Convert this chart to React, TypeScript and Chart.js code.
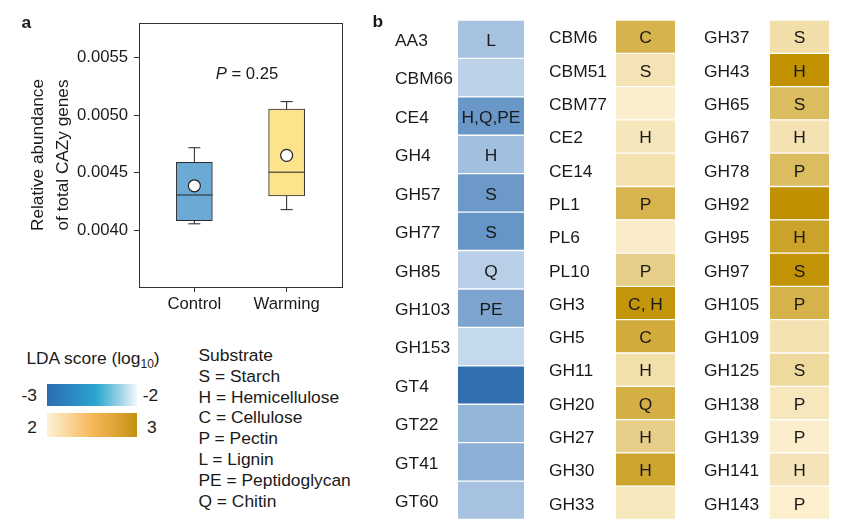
import React, { useEffect, useRef } from 'react';
import { Chart, registerables } from 'chart.js';

Chart.register(...registerables);

const FONT = "'Liberation Sans', Arial, Helvetica, sans-serif";
const INK = '#1a1a1a';

// ---------- Panel a: box plot data ----------
const groups = ['Control', 'Warming'];
const groupX = [1, 2];
const whiskerLow = [0.004058, 0.004181];
const quartile1 = [0.004086, 0.004299];
const medians = [0.004308, 0.004506];
const quartile3 = [0.004592, 0.005054];
const whiskerHigh = [0.004718, 0.005118];
const means = [0.004388, 0.004652];
const yTickValues = [0.004, 0.0045, 0.005, 0.0055];
const pValue = '0.25';

// ---------- Panel b: LDA heatmap data ----------
const blueFamilies = ['AA3', 'CBM66', 'CE4', 'GH4', 'GH57', 'GH77', 'GH85', 'GH103', 'GH153', 'GT4', 'GT22', 'GT41', 'GT60'];
const blueScores = [-2.28, -2.16, -2.65, -2.32, -2.63, -2.67, -2.18, -2.54, -2.1, -2.98, -2.4, -2.45, -2.29];
const blueSubstrates = ['L', '', 'H,Q,PE', 'H', 'S', 'S', 'Q', 'PE', '', '', '', '', ''];

const goldFamiliesA = ['CBM6', 'CBM51', 'CBM77', 'CE2', 'CE14', 'PL1', 'PL6', 'PL10', 'GH3', 'GH5', 'GH11', 'GH20', 'GH27', 'GH30', 'GH33'];
const goldScoresA = [2.64, 2.14, 2.03, 2.11, 2.15, 2.63, 2.05, 2.35, 2.95, 2.72, 2.18, 2.68, 2.35, 2.78, 2.1];
const goldSubstratesA = ['C', 'S', '', 'H', '', 'P', '', 'P', 'C, H', 'C', 'H', 'Q', 'H', 'H', ''];

const goldFamiliesB = ['GH37', 'GH43', 'GH65', 'GH67', 'GH78', 'GH92', 'GH95', 'GH97', 'GH105', 'GH109', 'GH125', 'GH138', 'GH139', 'GH141', 'GH143'];
const goldScoresB = [2.2, 2.99, 2.55, 2.15, 2.55, 3.0, 2.8, 2.97, 2.65, 2.15, 2.25, 2.1, 2.03, 2.13, 2.02];
const goldSubstratesB = ['S', 'H', 'S', 'H', 'P', '', 'H', 'S', 'P', '', 'S', 'P', 'P', 'H', 'P'];

// ---------- Legend text ----------
const substrateLegend = ['Substrate', 'S = Starch', 'H = Hemicellulose', 'C = Cellulose', 'P = Pectin', 'L = Lignin', 'PE = Peptidoglycan', 'Q = Chitin'];

const clamp01 = (t: number) => Math.max(0, Math.min(1, t));
const mix = (a: number[], b: number[], t: number) =>
  `rgb(${a.map((v, i) => Math.round(v + (b[i] - v) * clamp01(t))).join(',')})`;
const blueColor = (s: number) => mix([47, 109, 176], [214, 229, 243], s + 3);
const goldColor = (s: number) => mix([253, 241, 210], [192, 144, 0], s - 2);

function BoxPlot() {
  const ref = useRef<HTMLCanvasElement>(null);
  useEffect(() => {
    const canvas = ref.current!;
    const pts = (vals: number[]) => vals.map((v, i) => ({ x: groupX[i], y: v }));
    const framePlugin = {
      id: 'frame',
      afterDraw(chart: any) {
        const { ctx, chartArea: a } = chart;
        ctx.save();
        ctx.strokeStyle = '#333';
        ctx.lineWidth = 1;
        ctx.strokeRect(Math.round(a.left) + 0.5, Math.round(a.top) + 0.5, Math.round(a.right - a.left), Math.round(a.bottom - a.top));
        // P-value annotation
        const xs = chart.scales.x;
        const ys = chart.scales.y;
        const size = 16.7;
        const italic = `italic ${size}px ${FONT}`;
        const normal = `${size}px ${FONT}`;
        ctx.font = italic;
        const wP = ctx.measureText('P').width;
        ctx.font = normal;
        const rest = ` = ${pValue}`;
        const wR = ctx.measureText(rest).width;
        const cx = xs.getPixelForValue(1.57);
        const by = ys.getPixelForValue(0.005315);
        const x0 = cx - (wP + wR) / 2;
        ctx.fillStyle = INK;
        ctx.textBaseline = 'alphabetic';
        ctx.textAlign = 'left';
        ctx.font = italic;
        ctx.fillText('P', x0, by);
        ctx.font = normal;
        ctx.fillText(rest, x0 + wP, by);
        ctx.restore();
      },
    };
    const chart = new Chart(canvas, {
      type: 'bar',
      data: {
        datasets: [
          ...groups.map((g, i) => ({
            type: 'line' as const,
            label: g + ' whisker',
            data: [{ x: groupX[i], y: whiskerLow[i] }, { x: groupX[i], y: whiskerHigh[i] }],
            borderColor: '#222',
            borderWidth: 1,
            pointRadius: 0,
            fill: false,
            order: 4,
          })),
          {
            type: 'bar' as const,
            label: 'box',
            data: groups.map((g, i) => ({ x: groupX[i], y: [quartile1[i], quartile3[i]] })) as any,
            backgroundColor: ['#6caad6', '#fde38b'],
            borderColor: '#2b2b2b',
            borderWidth: 1,
            borderSkipped: false,
            barThickness: 36,
            order: 3,
          },
          {
            type: 'scatter' as const,
            label: 'caps',
            data: [...pts(whiskerLow), ...pts(whiskerHigh)],
            pointStyle: 'line',
            pointRadius: 6,
            borderColor: '#222',
            borderWidth: 1,
            order: 2,
          },
          {
            type: 'scatter' as const,
            label: 'median',
            data: pts(medians),
            pointStyle: 'line',
            pointRadius: 18,
            borderColor: '#222',
            borderWidth: 1,
            order: 2,
          },
          {
            type: 'scatter' as const,
            label: 'mean',
            data: pts(means),
            pointStyle: 'circle',
            pointRadius: 6,
            backgroundColor: '#ffffff',
            borderColor: '#222',
            borderWidth: 1.2,
            order: 1,
          },
        ] as any,
      },
      options: {
        responsive: false,
        animation: false,
        events: [],
        layout: { autoPadding: false, padding: { left: 0, top: 23, right: 13, bottom: 0 } },
        plugins: { legend: { display: false }, tooltip: { enabled: false } },
        scales: {
          x: {
            type: 'linear',
            min: 0.4,
            max: 2.6,
            offset: false,
            afterBuildTicks: (s: any) => {
              s.ticks = groupX.map((v) => ({ value: v }));
            },
            afterFit: (s: any) => {
              s.height = 43;
            },
            ticks: {
              callback: (v: any) => groups[groupX.indexOf(Number(v))] ?? '',
              font: { family: FONT, size: 16.7 },
              color: INK,
              padding: 2,
              maxRotation: 0,
              autoSkip: false,
            },
            grid: { display: true, offset: false, drawOnChartArea: false, drawTicks: true, tickLength: 5, color: '#333' },
            border: { display: false },
          },
          y: {
            type: 'linear',
            min: 0.00351,
            max: 0.0058,
            beginAtZero: false,
            afterBuildTicks: (s: any) => {
              s.ticks = yTickValues.map((v) => ({ value: v }));
            },
            afterFit: (s: any) => {
              s.width = 139;
            },
            ticks: {
              callback: (v: any) => Number(v).toFixed(4),
              font: { family: FONT, size: 16.7 },
              color: INK,
              padding: 6,
              autoSkip: false,
            },
            grid: { display: true, drawOnChartArea: false, drawTicks: true, tickLength: 5, color: '#333' },
            border: { display: false },
            title: {
              display: true,
              text: ['Relative abundance', 'of total CAZy genes'],
              font: { family: FONT, size: 17.2, lineHeight: '25px' },
              color: INK,
              padding: { top: 25.5, bottom: 0 },
            },
          },
        },
      } as any,
      plugins: [framePlugin],
    });
    return () => chart.destroy();
  }, []);
  return <canvas ref={ref} width={355} height={330} style={{ position: 'absolute', left: 0, top: 0, width: 355, height: 330 }} />;
}

type HeatProps = {
  left: number;
  width: number;
  axisWidth: number;
  padRight: number;
  families: string[];
  scores: number[];
  substrates: string[];
  colorFn: (s: number) => string;
};

function HeatColumn({ left, width, axisWidth, padRight, families, scores, substrates, colorFn }: HeatProps) {
  const ref = useRef<HTMLCanvasElement>(null);
  useEffect(() => {
    const canvas = ref.current!;
    const cellText = {
      id: 'cellText',
      afterDatasetsDraw(chart: any) {
        const { ctx } = chart;
        const meta = chart.getDatasetMeta(0);
        ctx.save();
        ctx.font = `17.4px ${FONT}`;
        ctx.fillStyle = INK;
        ctx.textAlign = 'center';
        ctx.textBaseline = 'middle';
        meta.data.forEach((bar: any, i: number) => {
          const { x, y, base } = bar.getProps(['x', 'y', 'base'], true);
          if (substrates[i]) ctx.fillText(substrates[i], (x + base) / 2, y + 2);
        });
        ctx.restore();
      },
    };
    const chart = new Chart(canvas, {
      type: 'bar',
      data: {
        labels: families,
        datasets: [
          {
            data: families.map(() => 1),
            backgroundColor: scores.map(colorFn),
            borderColor: '#ffffff',
            borderWidth: { top: 1, bottom: 1, left: 0, right: 0 },
            borderSkipped: false,
            categoryPercentage: 1,
            barPercentage: 1,
          },
        ],
      },
      options: {
        indexAxis: 'y',
        responsive: false,
        animation: false,
        events: [],
        layout: { autoPadding: false, padding: { left: 5, top: 20, right: padRight, bottom: 10.5 } },
        plugins: { legend: { display: false }, tooltip: { enabled: false } },
        scales: {
          x: { display: false, min: 0, max: 1 },
          y: {
            grid: { display: false },
            border: { display: false },
            afterFit: (s: any) => {
              s.width = axisWidth;
            },
            ticks: {
              crossAlign: 'far',
              autoSkip: false,
              labelOffset: 2,
              font: { family: FONT, size: 17.4 },
              color: INK,
              padding: 0,
            },
          },
        },
      } as any,
      plugins: [cellText],
    });
    return () => chart.destroy();
  }, []);
  return <canvas ref={ref} width={width} height={530} style={{ position: 'absolute', left, top: 0, width, height: 530 }} />;
}

function Txt({ x, baseline, size = 17.4, bold = false, align = 'left', children }: any) {
  const st: any = {
    position: 'absolute',
    top: baseline - 0.8465 * size,
    lineHeight: size + 'px',
    fontSize: size,
    fontFamily: FONT,
    color: INK,
    whiteSpace: 'nowrap',
    fontWeight: bold ? 'bold' : 'normal',
  };
  if (align === 'right') st.right = 856 - x;
  else st.left = x;
  return <div style={st}>{children}</div>;
}

export default function App() {
  return (
    <div style={{ position: 'absolute', left: 0, top: 0, width: 856, height: 530, background: '#fff', overflow: 'hidden', fontFamily: FONT }}>
      <BoxPlot />
      <Txt x={21.5} baseline={28.3} bold>a</Txt>
      <Txt x={372.5} baseline={27.3} bold>b</Txt>

      {/* LDA legend */}
      <Txt x={26.4} baseline={364.3}>
        LDA score (log<span style={{ fontSize: 12, position: 'relative', top: 4 }}>10</span>)
      </Txt>
      <div style={{ position: 'absolute', left: 46.7, top: 384, width: 90.3, height: 22, background: 'linear-gradient(to right, #2d6cb1 0%, #2a8fc6 35%, #2ba7d0 55%, #8fcde2 78%, #f2f7fb 100%)' }} />
      <div style={{ position: 'absolute', left: 46.7, top: 413, width: 90.3, height: 24, background: 'linear-gradient(to right, #fdf2d5 0%, #f9cf8a 30%, #f6b656 52%, #e0a537 75%, #c29112 100%)' }} />
      <Txt x={37} baseline={401.7} align="right">-3</Txt>
      <Txt x={142.8} baseline={401.7}>-2</Txt>
      <Txt x={37} baseline={433.3} align="right">2</Txt>
      <Txt x={147} baseline={433.3}>3</Txt>

      {substrateLegend.map((t, i) => (
        <Txt key={t} x={198.5} baseline={361.7 + i * 20.8}>{t}</Txt>
      ))}

      <HeatColumn left={390} width={145} axisWidth={63} padRight={11} families={blueFamilies} scores={blueScores} substrates={blueSubstrates} colorFn={blueColor} />
      <HeatColumn left={544} width={145} axisWidth={67} padRight={14} families={goldFamiliesA} scores={goldScoresA} substrates={goldSubstratesA} colorFn={goldColor} />
      <HeatColumn left={699} width={145} axisWidth={66} padRight={15} families={goldFamiliesB} scores={goldScoresB} substrates={goldSubstratesB} colorFn={goldColor} />
    </div>
  );
}
